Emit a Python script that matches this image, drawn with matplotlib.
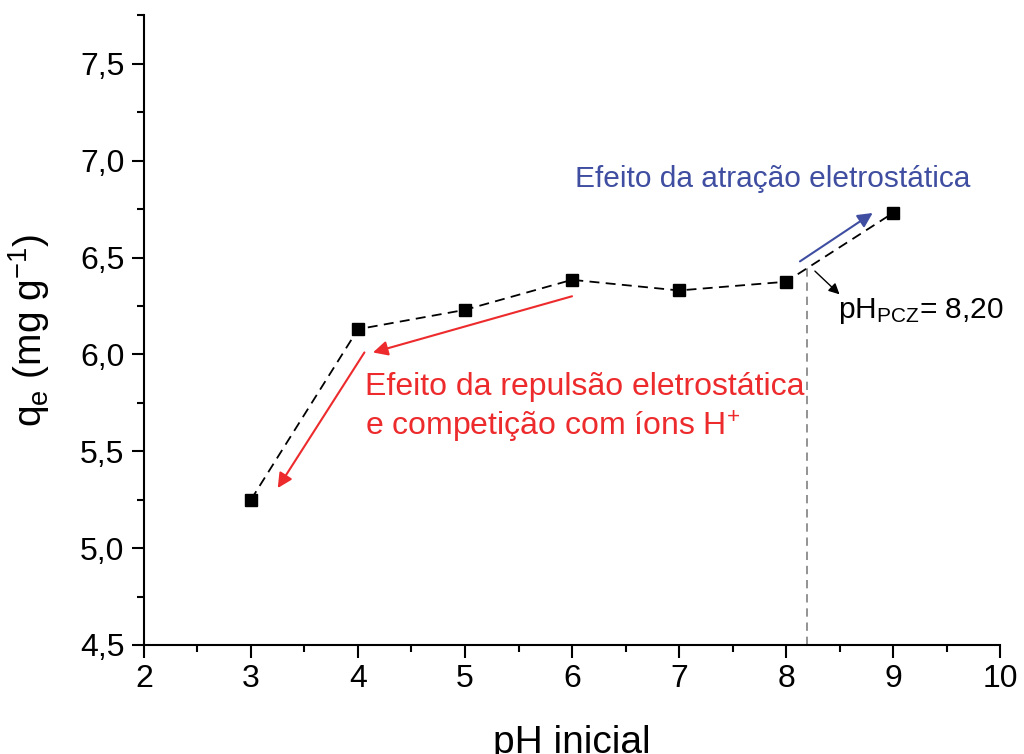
import matplotlib

matplotlib.use("Agg")
import matplotlib.pyplot as plt
from matplotlib.ticker import MultipleLocator

# data
ph_inicial = [3, 4, 5, 6, 7, 8, 9]
qe = [5.25, 6.13, 6.23, 6.385, 6.33, 6.375, 6.73]
ph_pcz = 8.20

x_ticks = [2, 3, 4, 5, 6, 7, 8, 9, 10]
y_ticks = [4.5, 5.0, 5.5, 6.0, 6.5, 7.0, 7.5]
y_tick_labels = ["4,5", "5,0", "5,5", "6,0", "6,5", "7,0", "7,5"]

RED = "#ED2A2C"
BLUE = "#3F4EA1"

plt.rcParams["font.family"] = ["Liberation Sans", "DejaVu Sans"]
plt.rcParams["mathtext.fontset"] = "custom"
plt.rcParams["mathtext.rm"] = "Liberation Sans"
plt.rcParams["mathtext.it"] = "Liberation Sans"

fig = plt.figure(figsize=(10.24, 7.54), dpi=100)
ax = fig.add_axes([0.1406, 0.1446, 0.836, 0.835])

ax.plot(ph_inicial, qe, color="black", linestyle=(0, (5.5, 3.5)), linewidth=1.3,
        marker="s", markersize=8.5, markerfacecolor="black", markeredgecolor="black",
        zorder=3)

# vertical line at pH_PCZ up to the curve
y_at_pcz = qe[5] + (ph_pcz - 8) * (qe[6] - qe[5])
ax.plot([ph_pcz, ph_pcz], [4.5, y_at_pcz], color="#808080", linestyle=(0, (5, 3.5)),
        linewidth=1.2, zorder=2)

ax.set_xlim(2, 10)
ax.set_ylim(4.5, 7.75)
ax.set_xticks(x_ticks)
ax.set_xticklabels([str(v) for v in x_ticks])
ax.set_yticks(y_ticks)
ax.set_yticklabels(y_tick_labels)
ax.xaxis.set_minor_locator(MultipleLocator(0.5))
ax.yaxis.set_minor_locator(MultipleLocator(0.25))

for side in ["top", "right"]:
    ax.spines[side].set_visible(False)
for side in ["left", "bottom"]:
    ax.spines[side].set_linewidth(1.5)
ax.spines["bottom"].set_zorder(4)

ax.tick_params(which="major", direction="out", length=9, width=1.5, labelsize=23, pad=5)
ax.tick_params(which="minor", direction="out", length=5, width=1.5)

ax.set_xlabel("pH inicial", fontsize=28, labelpad=22)
ax.set_ylabel("q$_\\mathrm{e}$ (mg g$^{\\mathrm{-1}}$)", fontsize=28, labelpad=20)

# annotations
arrow_red = dict(arrowstyle="-|>", color=RED, lw=1.5, mutation_scale=22, shrinkA=0, shrinkB=0)
ax.annotate("", xy=(4.14, 6.01), xytext=(6.0, 6.3), arrowprops=arrow_red)
ax.annotate("", xy=(3.25, 5.31), xytext=(4.06, 6.01), arrowprops=arrow_red)
ax.text(4.07, 5.83, "Efeito da repulsão eletrostática", color=RED, fontsize=23,
        ha="left", va="center")
ax.text(4.07, 5.625, "e competição com íons H$^{+}$", color=RED, fontsize=23,
        ha="left", va="center")

arrow_blue = dict(arrowstyle="-|>", color=BLUE, lw=1.5, mutation_scale=22, shrinkA=0, shrinkB=0)
ax.annotate("", xy=(8.81, 6.73), xytext=(8.13, 6.48), arrowprops=arrow_blue)
ax.text(6.03, 6.905, "Efeito da atração eletrostática", color=BLUE, fontsize=21.5,
        ha="left", va="center")

arrow_black = dict(arrowstyle="-|>", color="black", lw=1.0, mutation_scale=16, shrinkA=0, shrinkB=0)
ax.annotate("", xy=(8.50, 6.31), xytext=(8.27, 6.43), arrowprops=arrow_black)
ax.text(8.49, 6.225, "pH$_{\\mathrm{PCZ}}$= 8,20", color="black", fontsize=21.5,
        ha="left", va="center")

fig.savefig("out.png", dpi=100)
plt.close(fig)
